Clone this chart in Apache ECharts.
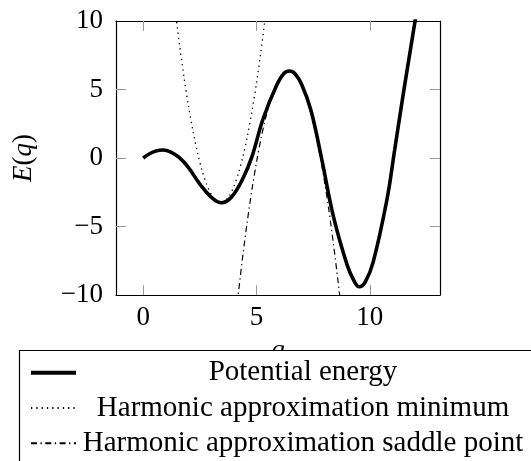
<!DOCTYPE html>
<html>
<head>
<meta charset="utf-8">
<script src="https://cdn.jsdelivr.net/npm/echarts@6/dist/echarts.min.js"></script>
<style>
  html, body { margin: 0; padding: 0; background: #fff; }
  #chart { width: 531px; height: 461px; }
</style>
</head>
<body>
<div id="chart"></div>
<script>
// Potential energy curve E(q)
const potentialQ = [0, 0.3, 0.6, 0.88, 1.2, 1.6, 2.0, 2.5, 3.0, 3.46, 3.9, 4.4, 4.8, 5.3, 5.9, 6.2, 6.45, 6.7, 7.0, 7.4, 7.87, 8.4, 9.0, 9.3, 9.53, 9.8, 10.15, 10.75, 11.1, 11.5, 12.0, 12.2];
const potentialE = [0, 0.33, 0.53, 0.58, 0.45, 0.02, -0.7, -1.9, -2.85, -3.27, -2.85, -1.5, 0.1, 2.9, 5.35, 6.15, 6.35, 6.15, 5.35, 3.5, 0, -4.3, -7.8, -8.95, -9.4, -9.05, -7.6, -3.1, 0.6, 4.9, 10.0, 12.1];

// Harmonic approximation around the minimum
const minimumQ = [1.45, 1.6, 1.8, 2.0, 2.2, 2.4, 2.6, 2.8, 3.0, 3.2, 3.42, 3.6, 3.8, 4.0, 4.2, 4.4, 4.6, 4.8, 5.0, 5.2, 5.4];
const minimumE = [10.31, 8.32, 5.92, 3.79, 1.94, 0.37, -0.92, -1.92, -2.65, -3.10, -3.27, -3.16, -2.76, -2.09, -1.14, 0.09, 1.60, 3.40, 5.47, 7.82, 10.45];

// Harmonic approximation around the saddle point
const saddleQ = [4.15, 4.4, 4.6, 4.8, 5.0, 5.2, 5.4, 5.6, 5.8, 6.0, 6.2, 6.43, 6.6, 6.8, 7.0, 7.2, 7.4, 7.6, 7.8, 8.0, 8.2, 8.4, 8.6, 8.75];
const saddleE = [-10.6, -7.08, -4.57, -2.31, -0.32, 1.42, 2.89, 4.10, 5.06, 5.75, 6.18, 6.35, 6.26, 5.90, 5.29, 4.42, 3.28, 1.89, 0.23, -1.69, -3.86, -6.30, -9.00, -11.2];

const seriesNames = ['Potential energy', 'Harmonic approximation minimum', 'Harmonic approximation saddle point'];
const xTicks = [0, 5, 10];
const yTicks = [-5, 0, 5];

const zip = (xs, ys) => xs.map((x, i) => [x, ys[i]]);
const SERIF = "'Liberation Serif', 'Times New Roman', serif";
const FS = 27;
const LEGEND_FS = 29;
const tickStyle = { color: '#9a9a9a', width: 1 };
const frame = { show: true, onZero: false, lineStyle: { color: '#000', width: 1.2 } };

const chart = echarts.init(document.getElementById('chart'), null, { renderer: 'canvas' });
chart.setOption({
  animation: false,
  backgroundColor: '#fff',
  color: ['#000', '#000', '#000'],
  grid: { left: 116, top: 21, width: 324, height: 274, containLabel: false },
  // legend frame: white panel plus its left and top edges (it runs past the canvas)
  graphic: [
    {
      type: 'rect', z: 3, silent: true,
      shape: { x: 19.5, y: 350.5, width: 560, height: 160 },
      style: { fill: '#fff', stroke: null }
    },
    {
      type: 'polyline', z: 3, silent: true,
      shape: { points: [[19.5, 470], [19.5, 350.5], [560, 350.5]] },
      style: { fill: null, stroke: '#000', lineWidth: 1.2 }
    }
  ],
  xAxis: [
    {
      type: 'value', position: 'bottom', min: -1.2, max: 13.1,
      axisLine: frame,
      axisTick: { show: true, inside: true, length: 10, customValues: xTicks, lineStyle: tickStyle },
      axisLabel: { customValues: xTicks, margin: 9, color: '#000', fontFamily: SERIF, fontSize: FS },
      splitLine: { show: false },
      name: 'q', nameLocation: 'middle', nameGap: 42,
      nameTextStyle: { fontFamily: SERIF, fontStyle: 'italic', fontSize: FS, color: '#000' }
    },
    {
      type: 'value', position: 'top', min: -1.2, max: 13.1,
      axisLine: frame,
      axisTick: { show: true, inside: true, length: 10, customValues: xTicks, lineStyle: tickStyle },
      axisLabel: { show: false },
      splitLine: { show: false }
    }
  ],
  yAxis: [
    {
      type: 'value', position: 'left', min: -10, max: 10, interval: 5,
      axisLine: frame,
      axisTick: { show: true, inside: true, length: 10, customValues: yTicks, lineStyle: tickStyle },
      axisLabel: {
        margin: 13, color: '#000', fontFamily: SERIF, fontSize: FS,
        formatter: v => String(v).replace('-', '\u2212')
      },
      splitLine: { show: false },
      name: '{i|E}{n|(}{i|q}{n|)}', nameLocation: 'middle', nameGap: 79,
      nameTextStyle: {
        fontFamily: SERIF, fontSize: FS, color: '#000',
        rich: {
          i: { fontFamily: SERIF, fontSize: FS, fontStyle: 'italic', color: '#000' },
          n: { fontFamily: SERIF, fontSize: FS, color: '#000' }
        }
      }
    },
    {
      type: 'value', position: 'right', min: -10, max: 10, interval: 5,
      axisLine: frame,
      axisTick: { show: true, inside: true, length: 10, customValues: yTicks, lineStyle: tickStyle },
      axisLabel: { show: false },
      splitLine: { show: false }
    }
  ],
  legend: {
    orient: 'vertical', left: 19, top: 351, height: 300, z: 5,
    padding: [4, 0, 20, 10], itemGap: 0, itemWidth: 45, itemHeight: 14,
    selectedMode: false,
    itemStyle: { opacity: 0, color: 'rgba(0,0,0,0)', borderWidth: 0 },
    data: [
      { name: seriesNames[0], lineStyle: { width: 4 } },
      { name: seriesNames[1] },
      { name: seriesNames[2] }
    ],
    formatter: n => '{c|' + n + '}',
    textStyle: {
      fontFamily: SERIF, fontSize: LEGEND_FS, color: '#000',
      rich: { c: { width: 444, align: 'center', height: 35.3, lineHeight: 35.3, fontFamily: SERIF, fontSize: LEGEND_FS, color: '#000' } }
    }
  },
  series: [
    {
      name: seriesNames[1], type: 'line', data: zip(minimumQ, minimumE),
      smooth: 0.3, symbol: 'none', showSymbol: false, clip: true,
      itemStyle: { color: '#000' },
      lineStyle: { color: '#000', width: 1.3, type: [1.3, 4], cap: 'butt' }, z: 2
    },
    {
      name: seriesNames[2], type: 'line', data: zip(saddleQ, saddleE),
      smooth: 0.3, symbol: 'none', showSymbol: false, clip: true,
      itemStyle: { color: '#000' },
      lineStyle: { color: '#000', width: 1.2, type: [6, 3.5, 1.3, 3.5], cap: 'butt' }, z: 2
    },
    {
      name: seriesNames[0], type: 'line', data: zip(potentialQ, potentialE),
      smooth: 0.4, symbol: 'none', showSymbol: false, clip: true,
      itemStyle: { color: '#000' },
      lineStyle: { color: '#000', width: 3.6 }, z: 3
    }
  ]
});
</script>
</body>
</html>
